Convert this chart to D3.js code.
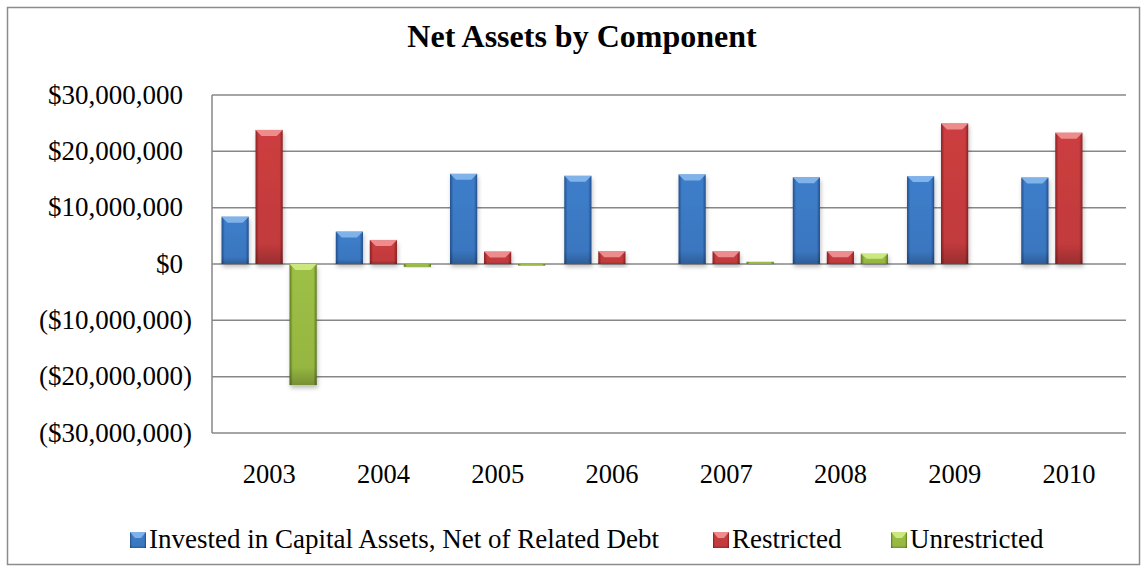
<!DOCTYPE html>
<html><head><meta charset="utf-8">
<script src="https://cdn.jsdelivr.net/npm/d3@7"></script>
<style>body{margin:0;background:#fff}svg{display:block}</style>
</head><body>
<svg id="c" width="1147" height="571"></svg>
<script>
const years = ["2003","2004","2005","2006","2007","2008","2009","2010"];
const seriesNames = ["Invested in Capital Assets, Net of Related Debt","Restricted","Unrestricted"];
const invested = [8400000,5750000,16000000,15650000,15900000,15400000,15600000,15350000];
const restricted = [23800000,4270000,2200000,2250000,2250000,2250000,24950000,23300000];
const unrestricted = [-21500000,-500000,-100000,0,400000,1830000,0,0];
const yTicks = [30000000,20000000,10000000,0,-10000000,-20000000,-30000000];
const title = "Net Assets by Component";

const series = [invested, restricted, unrestricted];
const colors = [
  {mid:"#3d7dca", dark:"#23508f", light:"#8cbcf0"},
  {mid:"#cc3d3f", dark:"#8a2224", light:"#f39a9a"},
  {mid:"#9dc045", dark:"#5f7a20", light:"#d4ef8a"}
];

const svg = d3.select("#c");
const font = "'Liberation Serif','Times New Roman',serif";

// outer frame
svg.append("rect").attr("x",7.5).attr("y",7.5).attr("width",1132).attr("height",557)
  .attr("fill","#fff").attr("stroke","#8c8c8c").attr("stroke-width",1.5);

const m = {l:212, r:1126, t:95, b:433};
const y = d3.scaleLinear().domain([-30000000,30000000]).range([m.b,m.t]);
const x0 = d3.scaleBand().domain(years).range([m.l,m.r]).paddingInner(0).paddingOuter(0);
const x1 = d3.scaleBand().domain([0,1,2]).range([0,102]).paddingInner(0.2).paddingOuter(0.1);

const defs = svg.append("defs");
colors.forEach((c,i)=>{
  const g = defs.append("linearGradient").attr("id","g"+i).attr("x1","0").attr("x2","1").attr("y1","0").attr("y2","0");
  g.append("stop").attr("offset","0").attr("stop-color",c.dark);
  g.append("stop").attr("offset","0.12").attr("stop-color",c.mid);
  g.append("stop").attr("offset","0.5").attr("stop-color",c.mid);
  g.append("stop").attr("offset","0.88").attr("stop-color",c.mid);
  g.append("stop").attr("offset","1").attr("stop-color",c.dark);
  const gv = defs.append("linearGradient").attr("id","gv"+i).attr("x1","0").attr("x2","0").attr("y1","0").attr("y2","1");
  gv.append("stop").attr("offset","0").attr("stop-color","#000").attr("stop-opacity",0);
  gv.append("stop").attr("offset","0.85").attr("stop-color","#000").attr("stop-opacity",0.05);
  gv.append("stop").attr("offset","1").attr("stop-color","#000").attr("stop-opacity",0.25);
});
const f = defs.append("filter").attr("id","sh").attr("x","-30%").attr("y","-30%").attr("width","160%").attr("height","160%");
f.append("feDropShadow").attr("dx",1).attr("dy",3).attr("stdDeviation",2).attr("flood-color","#000").attr("flood-opacity",0.25);

// gridlines
const gl = svg.append("g");
yTicks.forEach(t=>{
  if (t===-30000000) return;
  gl.append("line").attr("x1",m.l).attr("x2",m.r).attr("y1",y(t)).attr("y2",y(t))
    .attr("stroke","#878787").attr("stroke-width",1.5);
});
svg.append("line").attr("x1",m.l).attr("x2",m.l).attr("y1",m.t).attr("y2",m.b).attr("stroke","#878787").attr("stroke-width",1.5);
svg.append("line").attr("x1",m.l).attr("x2",m.r).attr("y1",m.b).attr("y2",m.b).attr("stroke","#878787").attr("stroke-width",1.5);

// y axis labels (positives padded by width of ")" as in accounting format)
const fmt = v => v===0 ? "$0" : (v<0 ? "($"+d3.format(",")(-v)+")" : "$"+d3.format(",")(v));
const yAxis = d3.axisLeft(y).tickValues(yTicks).tickFormat(fmt).tickSize(0).tickPadding(20);
const ya = svg.append("g").attr("transform",`translate(${m.l},0)`).call(yAxis);
ya.select(".domain").remove();
ya.selectAll("text").attr("font-family",font).attr("font-size",27).attr("fill","#000").attr("dy","0.3em")
  .attr("x", d => d < 0 ? -20 : -29);

// x axis labels
const xAxis = d3.axisBottom(x0).tickSize(0).tickPadding(0);
const xa = svg.append("g").attr("transform",`translate(0,${m.b})`).call(xAxis);
xa.select(".domain").remove();
xa.selectAll("text").attr("font-family",font).attr("font-size",26.5).attr("fill","#000")
  .attr("dy",null).attr("y",50);

// bars
const bars = svg.append("g");
years.forEach((yr,i)=>{
  const gx = x0(yr) + (x0.bandwidth()-102)/2;
  series.forEach((s,k)=>{
    const v = s[i];
    if (v===0) return;
    const bx = gx + x1(k), bw = x1.bandwidth();
    const top = Math.min(y(v), y(0)), h = Math.abs(y(v)-y(0));
    const g = bars.append("g").attr("filter","url(#sh)");
    g.append("rect").attr("x",bx).attr("y",top).attr("width",bw).attr("height",Math.max(h,1.5))
      .attr("fill",`url(#g${k})`);
    g.append("rect").attr("x",bx).attr("y",top).attr("width",bw).attr("height",Math.max(h,1.5))
      .attr("fill",`url(#gv${k})`);
    const capH = Math.min(6, h*0.5);
    if (h>4) {
      g.append("path").attr("d",`M${bx},${top} L${bx+bw},${top} L${bx+bw-6},${top+capH} L${bx+6},${top+capH} Z`)
        .attr("fill",colors[k].light).attr("opacity",0.85);
    }
  });
});

// title
svg.append("text").attr("x",582).attr("y",47).attr("text-anchor","middle")
  .attr("font-family",font).attr("font-size",32).attr("font-weight","bold").text(title);

// legend
const legX = [130,713,891];
const lg = svg.append("g");
seriesNames.forEach((n,k)=>{
  const gg = lg.append("g").attr("transform",`translate(${legX[k]},532)`);
  gg.append("rect").attr("x",0).attr("y",0).attr("width",16).attr("height",16).attr("fill",`url(#g${k})`);
  gg.append("rect").attr("x",0).attr("y",0).attr("width",16).attr("height",16).attr("fill",`url(#gv${k})`);
  gg.append("path").attr("d","M0,0 L16,0 L11,6 L5,6 Z").attr("fill",colors[k].light).attr("opacity",0.85);
  gg.append("text").attr("x",19).attr("y",16).attr("font-family",font).attr("font-size",27).text(n);
});
</script>
</body></html>
